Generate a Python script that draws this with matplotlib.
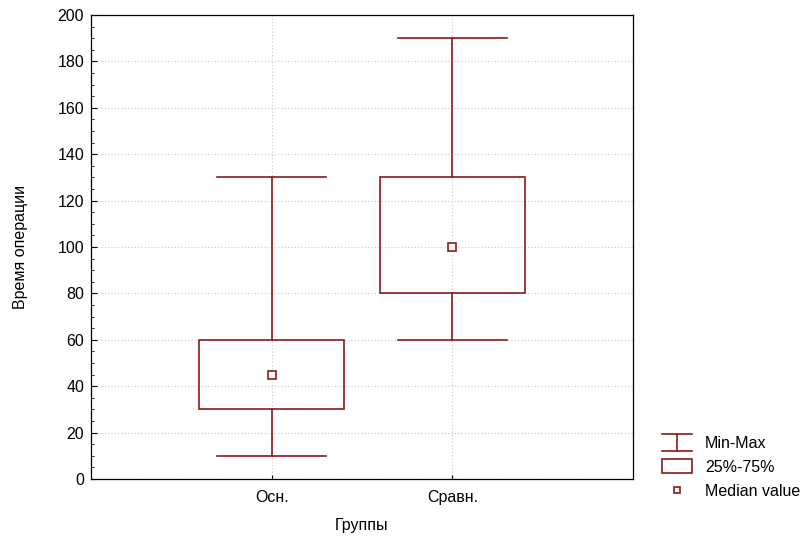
import matplotlib
matplotlib.use("Agg")
import matplotlib.pyplot as plt
from matplotlib.patches import Rectangle
from matplotlib.lines import Line2D
from matplotlib.legend_handler import HandlerBase
from matplotlib.ticker import MultipleLocator

plt.rcParams['font.family'] = ['Liberation Sans', 'DejaVu Sans']

groups = ["Осн.", "Сравн."]
mins = [10, 60]
q1 = [30, 80]
medians = [45, 100]
q3 = [60, 130]
maxs = [130, 190]

color = '#8B1A1A'
fs = 11.5

fig = plt.figure(figsize=(8.03, 5.39), dpi=100)
ax = fig.add_axes([91/803, 1-479/539, (633-91)/803, (479-15)/539])

box_w = 0.8
cap_w = 0.6
for i, g in enumerate(groups):
    x = i + 1
    ax.add_patch(Rectangle((x - box_w/2, q1[i]), box_w, q3[i]-q1[i],
                           fill=False, edgecolor=color, lw=1.2, zorder=3))
    ax.plot([x, x], [q3[i], maxs[i]], color=color, lw=1.2, zorder=3)
    ax.plot([x, x], [mins[i], q1[i]], color=color, lw=1.2, zorder=3)
    ax.plot([x - cap_w/2, x + cap_w/2], [maxs[i], maxs[i]], color=color, lw=1.2, zorder=3)
    ax.plot([x - cap_w/2, x + cap_w/2], [mins[i], mins[i]], color=color, lw=1.2, zorder=3)
    ax.plot([x], [medians[i]], marker='s', ms=5.5, mfc='white', mec=color, mew=1.2, zorder=4)

ax.set_xlim(0, 3)
ax.set_ylim(0, 200)
ax.set_xticks([1, 2])
ax.set_xticklabels(groups)
ax.yaxis.set_major_locator(MultipleLocator(20))
ax.yaxis.set_minor_locator(MultipleLocator(5))
ax.tick_params(axis='both', which='both', direction='in', labelsize=fs)
ax.tick_params(axis='y', which='major', length=4, pad=5)
ax.tick_params(axis='y', which='minor', length=2)
ax.tick_params(axis='x', which='major', length=3, pad=8)
ax.grid(True, which='major', color='#c8c8c8', linestyle=(0, (1, 2)), lw=0.8, zorder=0)
for s in ax.spines.values():
    s.set_linewidth(0.9)

ax.set_xlabel("Группы", fontsize=fs)
ax.set_ylabel("Время операции", fontsize=fs)
ax.yaxis.set_label_coords((28-91)/542, 0.5)
ax.xaxis.set_label_coords(0.5, (479-518)/464)


class MinMaxHandler(HandlerBase):
    def create_artists(self, legend, orig_handle, xdescent, ydescent, width, height, fontsize, trans):
        cx = width / 2 - xdescent
        top = height + 2 - ydescent
        bot = -2 - ydescent
        l1 = Line2D([-xdescent, width - xdescent], [top, top], color=color, lw=1.2, transform=trans)
        l2 = Line2D([cx, cx], [bot, top], color=color, lw=1.2, transform=trans)
        l3 = Line2D([-xdescent, width - xdescent], [bot, bot], color=color, lw=1.2, transform=trans)
        return [l1, l2, l3]


class BoxHandler(HandlerBase):
    def create_artists(self, legend, orig_handle, xdescent, ydescent, width, height, fontsize, trans):
        r = Rectangle((-xdescent, -ydescent - 1), width, height + 2, fill=False,
                      edgecolor=color, lw=1.2, transform=trans)
        return [r]


class MedHandler(HandlerBase):
    def create_artists(self, legend, orig_handle, xdescent, ydescent, width, height, fontsize, trans):
        m = Line2D([width / 2 - xdescent], [height / 2 - ydescent], marker='s', ms=5,
                   mfc='white', mec=color, mew=1.2, ls='none', transform=trans)
        return [m]


class H1: pass
class H2: pass
class H3: pass
leg = fig.legend([H1(), H2(), H3()], ["Min-Max", "25%-75%", "Median value"],
                 handler_map={H1: MinMaxHandler(), H2: BoxHandler(), H3: MedHandler()},
                 loc='lower left', bbox_to_anchor=(662/803, 1-498.5/539),
                 frameon=False, fontsize=fs, handlelength=1.9, handletextpad=0.8,
                 labelspacing=0.55, borderaxespad=0, borderpad=0)

fig.savefig("out.png", dpi=100)
